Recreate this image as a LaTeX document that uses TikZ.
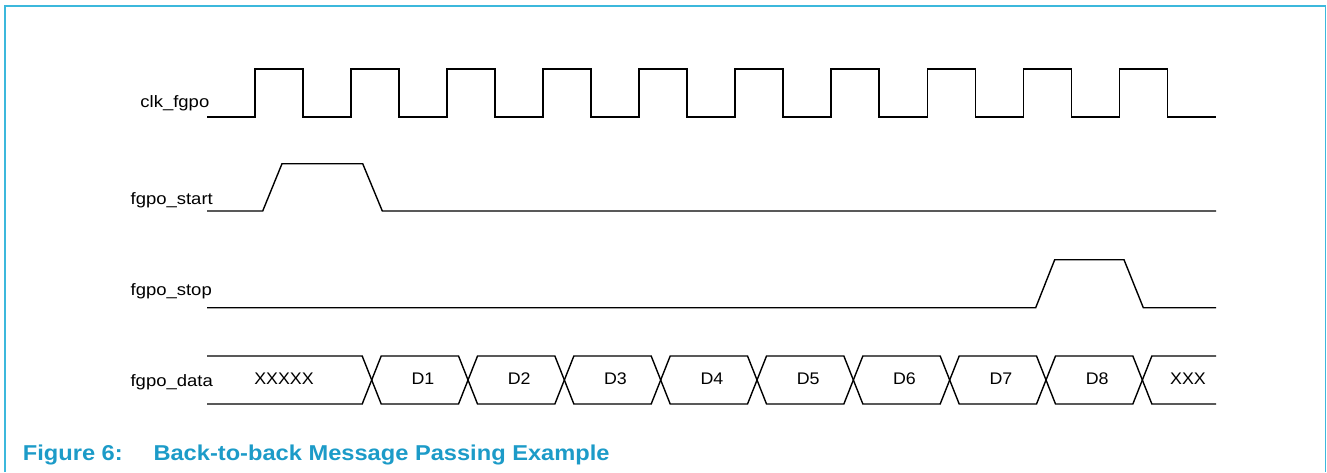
\documentclass[tikz,border=0pt]{standalone}
\usepackage{fontspec}
\setmainfont{Liberation Sans}
\definecolor{framecol}{HTML}{3CB8DC}
\definecolor{capcol}{HTML}{1C9BC8}
\newcommand{\wlab}[1]{\scalebox{1.12}[1]{#1}}
\newcommand{\wdat}[1]{\scalebox{1.06}[1]{#1}}
\newcommand{\wcap}[1]{\scalebox{1.1}[1]{#1}}
\begin{document}
\begin{tikzpicture}[x=1pt,y=-1pt,
  sig/.style={line width=1.4pt,black,line join=miter},
  lab/.style={font=\fontsize{16.5}{20}\selectfont,anchor=base east,inner sep=0pt},
  dlab/.style={font=\fontsize{16.8}{20}\selectfont,anchor=base,inner sep=0pt},
  captext/.style={font=\fontsize{21.5}{26}\selectfont\bfseries,text=capcol,anchor=base west,inner sep=0pt}]
\useasboundingbox (0,0) rectangle (1327,472);
% frame
\draw[framecol,line width=1.5pt] (5,472) -- (5,6) -- (1325.5,6) -- (1325.5,472);
% labels
\node[lab] (lclk) at (209.5,107) {\wlab{clk\_fgpo}};
\node[lab] (lstart) at (213,204) {\wlab{fgpo\_start}};
\node[lab] (lstop) at (212,295) {\wlab{fgpo\_stop}};
\node[lab] (ldata) at (213,386.5) {\wlab{fgpo\_data}};
% clock
\draw[sig] (207,117) foreach \i in {0,...,9} { -- ({255+96.03*\i},117) -- ({255+96.03*\i},69) -- ({303+96.03*\i},69) -- ({303+96.03*\i},117) } -- (1216,117);
% start
\draw[sig] (207,211) -- (262.7,211) -- (282,163.7) -- (362.7,163.7) -- (382.3,211) -- (1216,211);
% stop
\draw[sig] (207,307.7) -- (1035.7,307.7) -- (1054.7,259.7) -- (1124,259.7) -- (1143.3,307.7) -- (1216,307.7);
% data bus
\def\h{9.5}
\draw[sig] (207,356) foreach \k [evaluate=\k as \c using {371.7+96.33*\k}, evaluate=\k as \ya using {ifthenelse(mod(\k,2)==0,356,404)}, evaluate=\k as \yb using {ifthenelse(mod(\k,2)==0,404,356)}] in {0,...,8} { -- ({\c-\h},\ya) -- ({\c+\h},\yb) } -- (1216,404);
\draw[sig] (207,404) foreach \k [evaluate=\k as \c using {371.7+96.33*\k}, evaluate=\k as \ya using {ifthenelse(mod(\k,2)==0,404,356)}, evaluate=\k as \yb using {ifthenelse(mod(\k,2)==0,356,404)}] in {0,...,8} { -- ({\c-\h},\ya) -- ({\c+\h},\yb) } -- (1216,356);
% data labels
\node[dlab] (dx) at (284,384.5) {\wdat{XXXXX}};
\node[dlab] (d1) at (423,384.5) {\wdat{D1}};
\node[dlab] (d2) at (519.2,384.5) {\wdat{D2}};
\node[dlab] (d3) at (615.5,384.5) {\wdat{D3}};
\node[dlab] (d4) at (711.9,384.5) {\wdat{D4}};
\node[dlab] (d5) at (808.2,384.5) {\wdat{D5}};
\node[dlab] (d6) at (904.5,384.5) {\wdat{D6}};
\node[dlab] (d7) at (1000.9,384.5) {\wdat{D7}};
\node[dlab] (d8) at (1097.2,384.5) {\wdat{D8}};
\node[dlab] (dxx) at (1188,384.5) {\wdat{XXX}};
% caption
\node[captext] (fig) at (22.7,460) {\wcap{Figure 6:}};
\node[captext] (title) at (153.3,460) {\wcap{Back-to-back Message Passing Example}};
\end{tikzpicture}
\end{document}
